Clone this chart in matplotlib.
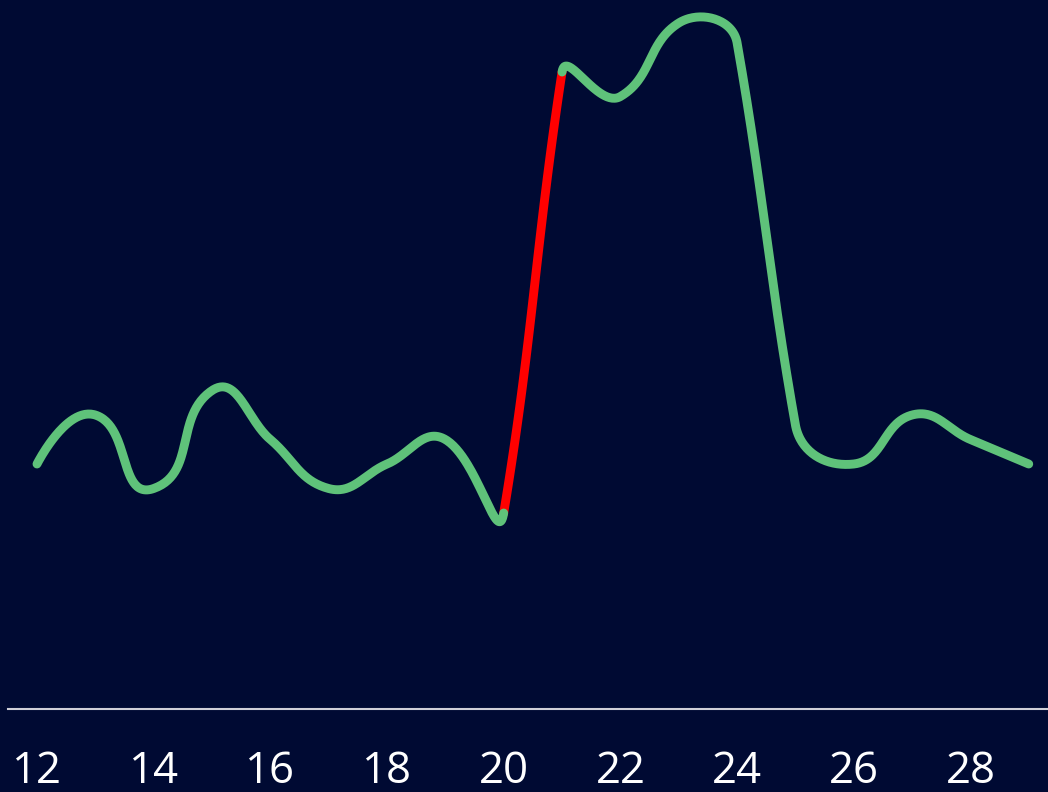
import numpy as np
import matplotlib.pyplot as plt

# data
days = [12, 13, 14, 15, 16, 17, 18, 19, 20, 21, 22, 23, 24, 25, 26, 27, 28, 29]
values = [10, 12, 9, 13, 11, 9, 10, 11, 8, 26, 25, 28, 27.2, 11.6, 10, 12, 11, 10]
tick_days = [12, 14, 16, 18, 20, 22, 24, 26, 28]
red_from, red_to = 20, 21

bg = "#000a33"
green = "#5fc27a"
red = "#ff0000"

W, H = 1048, 792
fig = plt.figure(figsize=(W / 100, H / 100), dpi=100, facecolor=bg)
ax = fig.add_axes([8 / W, 83 / H, 1 - 8 / W, 709 / H])
ax.set_facecolor(bg)
ax.set_xlim(11.503, 29.33)
ax.set_ylim(0, 28.94)


def smooth_segments(pts, k=0.4, n=60):
    # bezier through the points, tangent leans towards the longer neighbour
    # chord, worked out in pixel space so it looks the same on screen
    m = len(pts)
    chords = np.diff(pts, axis=0)
    lens = np.hypot(chords[:, 0], chords[:, 1])
    tang = np.zeros_like(pts)
    for i in range(1, m - 1):
        d = chords[i - 1] * lens[i - 1] + chords[i] * lens[i]
        tang[i] = d / np.hypot(*d)
    segs = []
    t = np.linspace(0, 1, n)[:, None]
    for i in range(m - 1):
        p0, p3 = pts[i], pts[i + 1]
        p1 = p0 + tang[i] * k * lens[i]
        p2 = p3 - tang[i + 1] * k * lens[i]
        b = ((1 - t) ** 3 * p0 + 3 * (1 - t) ** 2 * t * p1
             + 3 * (1 - t) * t ** 2 * p2 + t ** 3 * p3)
        segs.append(b)
    return segs


disp = ax.transData.transform(np.column_stack([days, values]))
inv = ax.transData.inverted()
segs = [inv.transform(s) for s in smooth_segments(disp)]

i_red = days.index(red_from)
left = np.vstack(segs[:i_red])
right = np.vstack(segs[days.index(red_to):])
mid = segs[i_red]

lw = 6.4
ax.plot(mid[:, 0], mid[:, 1], color=red, lw=lw, solid_capstyle="round",
        clip_on=False, zorder=2)
for part in (left, right):
    ax.plot(part[:, 0], part[:, 1], color=green, lw=lw, solid_capstyle="round",
            solid_joinstyle="round", clip_on=False, zorder=3)

for s in ["top", "left", "right"]:
    ax.spines[s].set_visible(False)
ax.spines["bottom"].set_color("#d0d0d8")
ax.spines["bottom"].set_linewidth(1.5)
ax.set_yticks([])
ax.set_xticks(tick_days)
ax.set_xticklabels([str(d) for d in tick_days], family="Open Sans",
                   fontsize=31.5, color="white")
ax.tick_params(axis="x", length=0, pad=29)

fig.savefig("out.png", dpi=100, facecolor=bg)
